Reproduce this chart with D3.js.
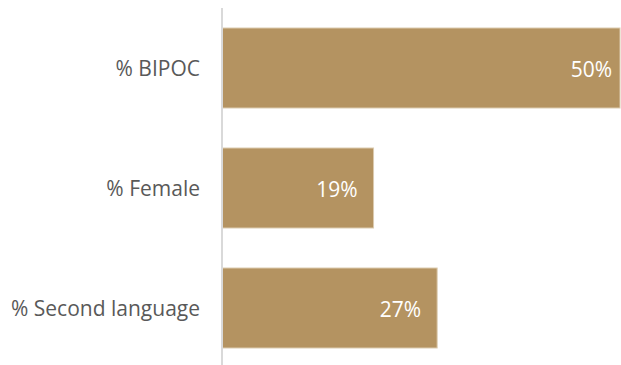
<!DOCTYPE html>
<html>
<head>
<meta charset="utf-8">
<script src="https://cdn.jsdelivr.net/npm/d3@7"></script>
<style>
  html, body { margin: 0; padding: 0; background: #fff; }
  svg { display: block; }
</style>
</head>
<body>
<script>
// Share of each group, in percent
const categories = ["% BIPOC", "% Female", "% Second language"];
const values = [50, 19, 27];

const width = 621, height = 365;
const svg = d3.select("body").append("svg")
  .attr("width", width).attr("height", height);

const x = d3.scaleLinear().domain([0, 50]).range([222.5, 620]);
const y = d3.scaleBand().domain(categories).range([8, 368]).paddingInner(1/3).paddingOuter(1/6);

// Bars
svg.append("g").selectAll("rect").data(values).join("rect")
  .attr("x", x(0))
  .attr("y", (d, i) => y(categories[i]))
  .attr("width", d => x(d) - x(0))
  .attr("height", y.bandwidth())
  .attr("fill", "#b49361")
  .attr("stroke", "#dccbb0")
  .attr("stroke-width", 1);

// Category axis
const axis = d3.axisLeft(y).tickSize(0).tickPadding(22);
const gAxis = svg.append("g").attr("transform", `translate(${x(0) - 0.5},0)`).call(axis);
gAxis.select(".domain").remove();
gAxis.selectAll("text")
  .attr("fill", "#595959")
  .attr("dy", "0.4em")
  .style("font-family", "'Open Sans', sans-serif")
  .style("font-size", "21px");

svg.append("line")
  .attr("x1", 222).attr("x2", 222)
  .attr("y1", 8).attr("y2", height)
  .attr("stroke", "#d9d9d9").attr("stroke-width", 2);

// Value labels inside the bar ends; bars reaching the right edge get a tighter inset
svg.append("g").selectAll("text").data(values).join("text")
  .attr("x", d => x(d) >= width - 5 ? width - 9 : x(d) - 16)
  .attr("y", (d, i) => y(categories[i]) + y.bandwidth() / 2)
  .attr("dy", "0.42em")
  .attr("text-anchor", "end")
  .attr("fill", "#ffffff")
  .style("font-family", "'Open Sans', sans-serif")
  .style("font-size", "21px")
  .text(d => d + "%");
</script>
</body>
</html>
